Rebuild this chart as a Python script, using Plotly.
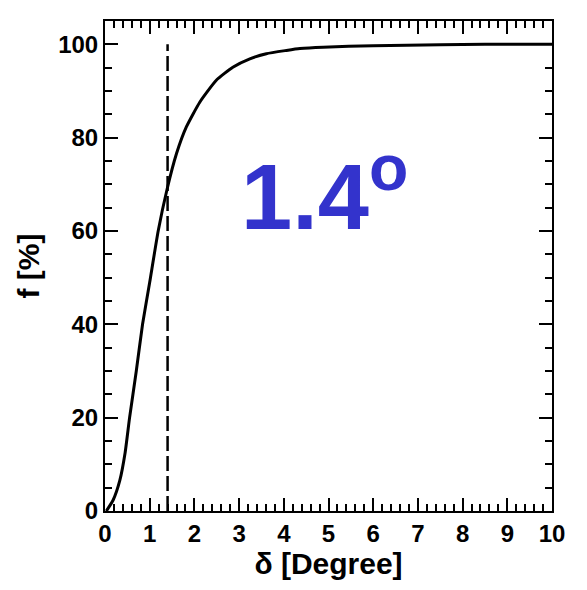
import plotly.graph_objects as go

# Cumulative fraction f [%] versus angular offset delta [degree]
delta = [0.03, 0.18, 0.33, 0.45, 0.55, 0.70, 0.84, 1.00, 1.19, 1.39, 1.60, 1.82,
         2.12, 2.49, 2.86, 3.24, 3.61, 4.06, 4.36, 4.88, 6.00, 7.50, 8.50, 10.0]
frac = [0.0, 2.3, 6.5, 12.5, 20.0, 30.0, 40.0, 49.0, 60.0, 69.0, 76.6, 82.3,
        87.6, 92.3, 95.1, 96.9, 98.0, 98.7, 99.1, 99.4, 99.7, 99.9, 100.0, 100.0]

marker_delta = 1.4
marker_label = "1.4<sup>o</sup>"

x_range = [0, 10]
y_range = [0, 105]
x_minor_ticks = [round(0.2 * i, 1) for i in range(51)]
y_minor_ticks = [5 * i for i in range(22)]

font_family = "Liberation Sans, Arial, Helvetica, sans-serif"

fig = go.Figure()
fig.add_trace(go.Scatter(
    x=delta, y=frac, mode="lines",
    line=dict(color="black", width=3, shape="spline", smoothing=0.5),
    showlegend=False, hoverinfo="skip",
))
# the dashed marker line sits on the overlay axes that carry the minor ticks
fig.add_trace(go.Scatter(
    x=[marker_delta, marker_delta], y=[0, 100], mode="lines",
    xaxis="x2", yaxis="y2",
    line=dict(color="black", width=2.5, dash="15px,5px"),
    showlegend=False, hoverinfo="skip",
))

fig.add_annotation(
    x=4.9, y=68.8, xref="x", yref="y", text=marker_label, showarrow=False,
    font=dict(family=font_family, size=92, color="#3333CC", weight="bold"),
    xanchor="center", yanchor="middle",
)

axis_common = dict(
    showline=True, linecolor="black", linewidth=2, mirror="ticks",
    ticks="inside", tickwidth=2, tickcolor="black",
    showgrid=False, zeroline=False,
)
tickfont = dict(family=font_family, size=24, color="black", weight="bold")
titlefont = dict(family=font_family, size=30, color="black", weight="bold")

fig.update_layout(
    width=587, height=590,
    margin=dict(l=105, r=35, t=21, b=79),
    plot_bgcolor="white", paper_bgcolor="white",
    xaxis=dict(range=x_range, dtick=1, tick0=0, ticklen=13, tickfont=tickfont,
               title=dict(text="δ [Degree]", standoff=6, font=titlefont),
               **axis_common),
    yaxis=dict(range=y_range, dtick=20, tick0=0, ticklen=13, tickfont=tickfont,
               title=dict(text="f [%]", standoff=10, font=titlefont),
               **axis_common),
    xaxis2=dict(range=x_range, tickmode="array", tickvals=x_minor_ticks, ticklen=7,
                overlaying="x", side="bottom", anchor="y2", showticklabels=False,
                **axis_common),
    yaxis2=dict(range=y_range, tickmode="array", tickvals=y_minor_ticks, ticklen=7,
                overlaying="y", side="left", anchor="x2", showticklabels=False,
                **axis_common),
)

fig.write_html("out.html")
